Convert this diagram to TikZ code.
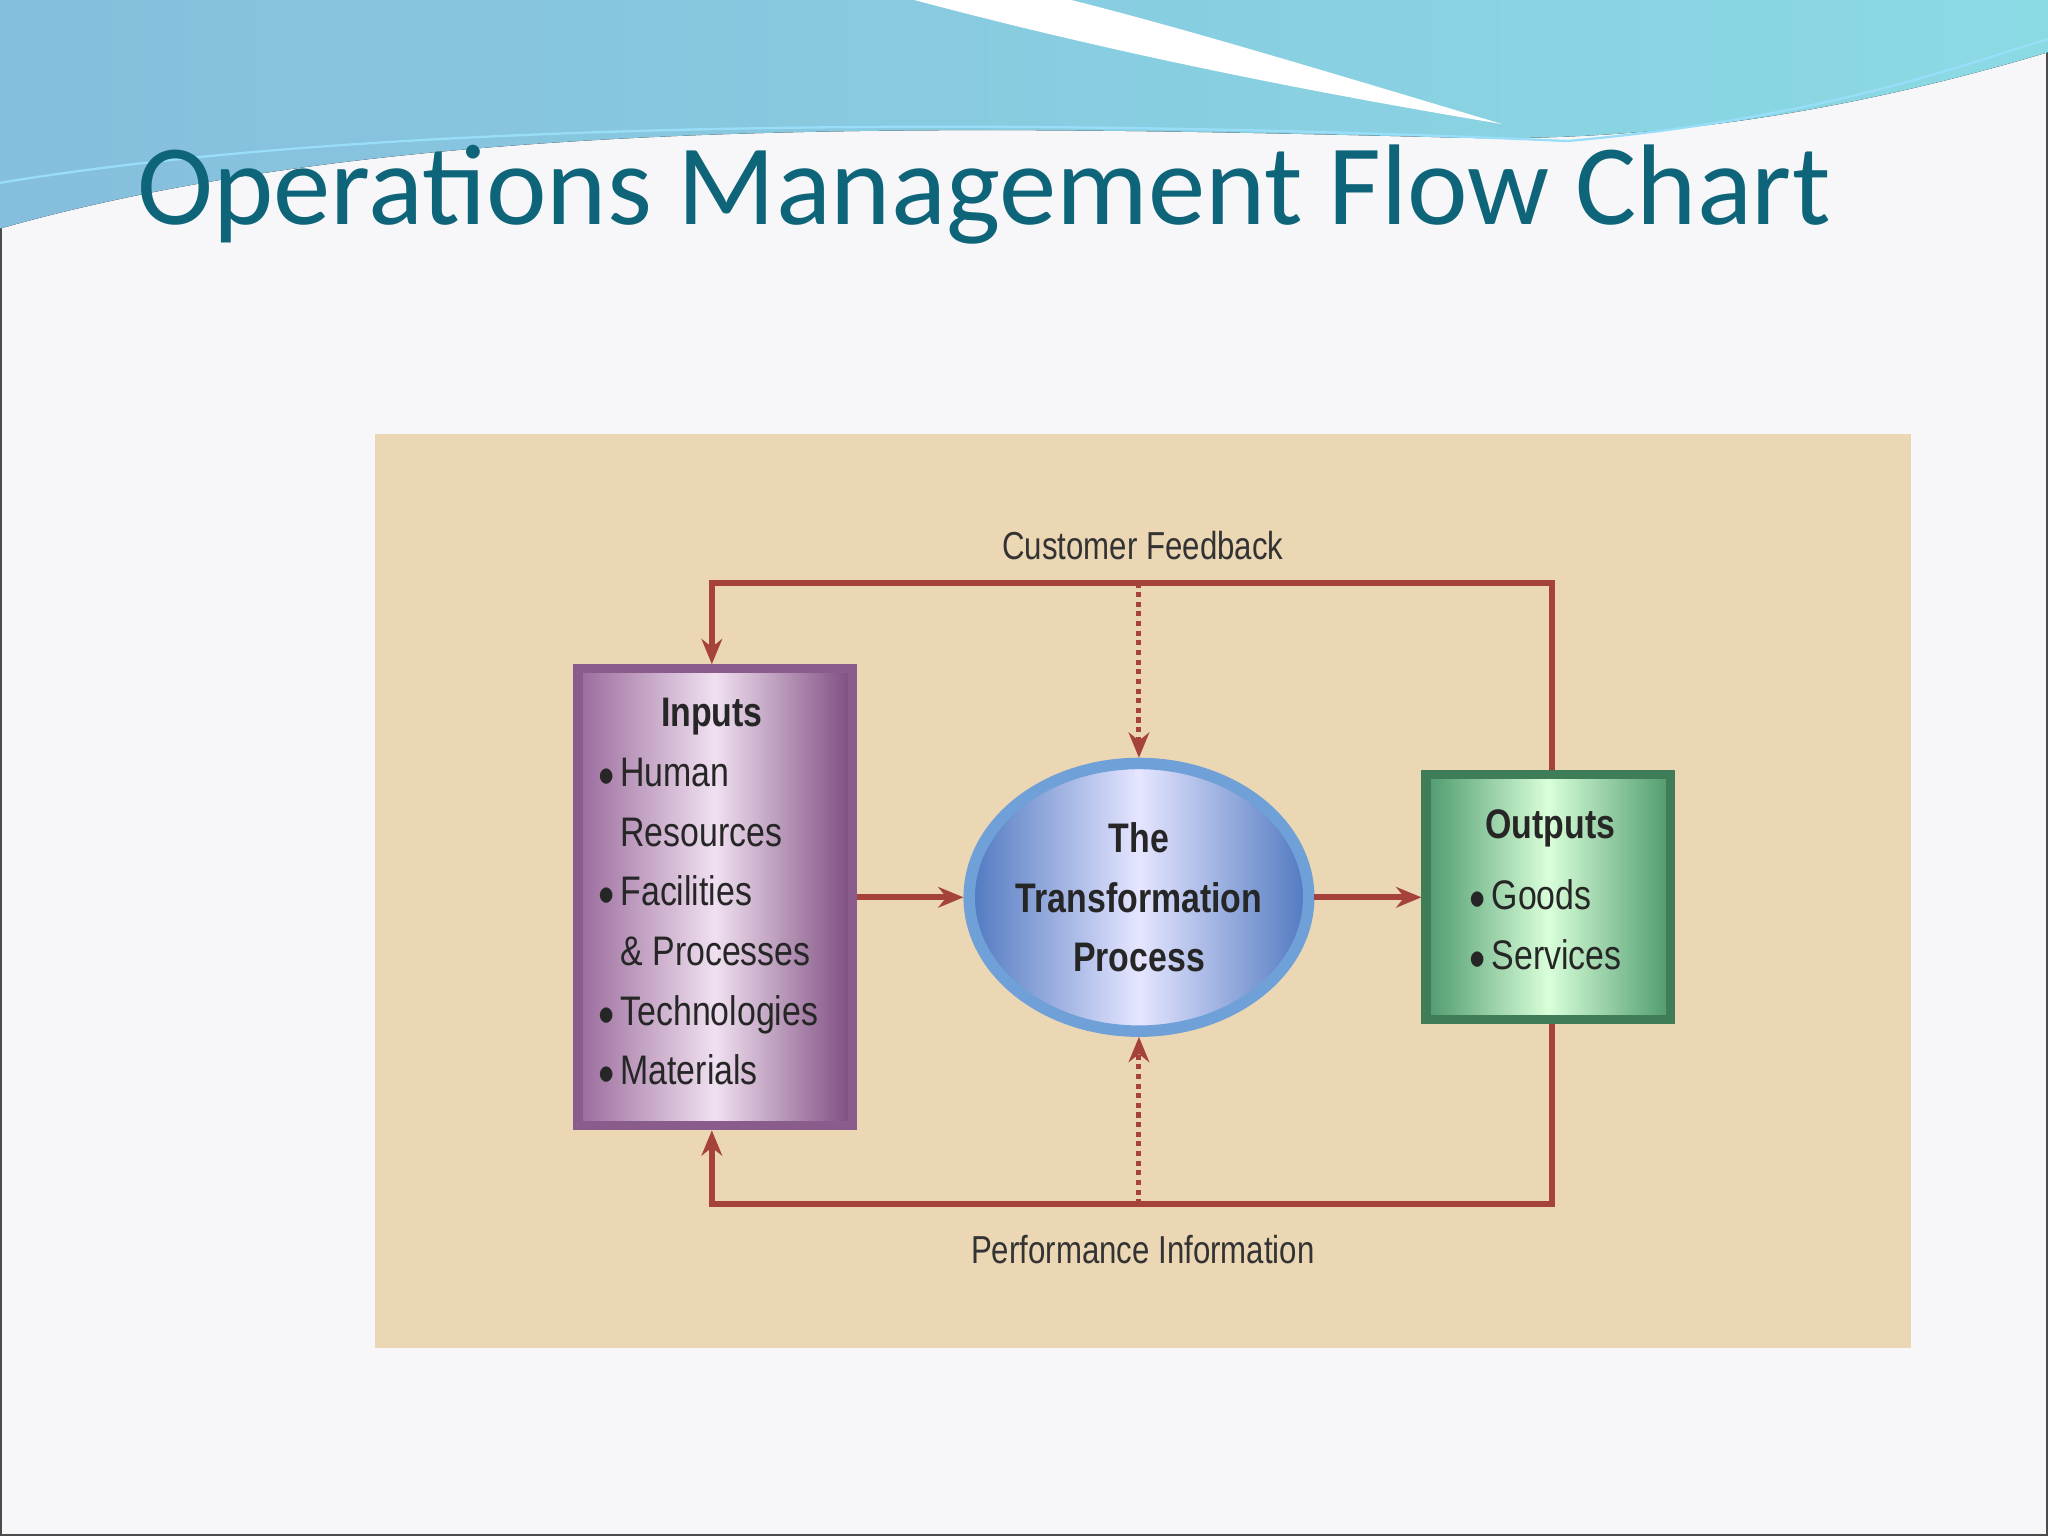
\documentclass[tikz,border=0pt]{standalone}
\usepackage{fontspec}
\setmainfont{Liberation Sans}
\newfontfamily\titlefont{Carlito}
\usetikzlibrary{arrows.meta,shapes.geometric}
\definecolor{bgc}{HTML}{F7F7FA}
\definecolor{panel}{HTML}{EBD7B4}
\definecolor{ln}{HTML}{A5423C}
\definecolor{ttl}{HTML}{0E6478}
\definecolor{wv1}{HTML}{86BEDD}
\definecolor{wv2}{HTML}{8ADAE4}
\definecolor{pu1}{HTML}{9A6A9C}
\definecolor{pu2}{HTML}{7E4C80}
\definecolor{pub}{HTML}{8A5C8C}
\definecolor{gr1}{HTML}{4E9A6E}
\definecolor{grb}{HTML}{3F7D58}
\definecolor{bl1}{HTML}{4F78C0}
\definecolor{blb}{HTML}{6FA0D8}
\tikzset{
  conn/.style={draw=ln,line width=2.6pt},
  dotconn/.style={draw=ln,line width=2.2pt,dotted},
  arr/.style={-{Stealth[length=11pt,width=9pt]}},
  lbl/.style={font=\fontsize{17}{20}\selectfont,text=black!80,xscale=0.8},
  btxt/.style={font=\fontsize{18}{26}\selectfont,text=black!85,xscale=0.82,align=left,inner sep=0pt},
}
\begin{document}
\begin{tikzpicture}[x=0.02cm,y=-0.02cm]
\useasboundingbox (0,0) rectangle (1568,1176);
\fill[bgc] (0,0) rectangle (1568,1176);
\draw[black!70,line width=0.8pt] (0.5,0.5) rectangle (1567.5,1175.5);
% top wave
\fill[left color=wv1,right color=wv2] (0,0) -- (1568,0) -- (1568,40) .. controls (1400,90) and (1250,110) .. (1100,105) .. controls (700,95) and (300,90) .. (0,175) -- cycle;
\fill[white] (700,0) .. controls (850,40) and (1000,70) .. (1150,95) .. controls (1000,50) and (900,20) .. (820,0) -- cycle;
\draw[white!60!cyan,line width=1pt] (0,140) .. controls (300,90) and (800,90) .. (1200,108) .. controls (1400,90) and (1500,50) .. (1568,30);
\node[anchor=base west,inner sep=0pt,text=ttl,font=\titlefont\fontsize{50}{54}\selectfont] (title) at (105,172) {Operations Management Flow Chart};
% panel
\fill[panel] (287,332) rectangle (1463,1032);
% boxes
\node[draw=pub,line width=4pt,inner sep=0pt,
  left color=pu1,right color=pu2,middle color=white!88!violet,
  minimum width=4.2cm,minimum height=7.0cm] (in) at (547.5,687) {};
\node[draw=grb,line width=4pt,inner sep=0pt,
  left color=gr1,right color=gr1,middle color=white!85!green,
  minimum width=3.75cm,minimum height=3.75cm] (out) at (1185.5,687) {};
\node[ellipse,draw=blb,line width=5pt,inner sep=0pt,
  left color=bl1,right color=bl1,middle color=white!90!blue,
  minimum width=5.2cm,minimum height=4.1cm] (tp) at (872,687) {};
% texts
\node[btxt,font=\bfseries\fontsize{18}{26}\selectfont] (inh) at (545,549) {Inputs};
\node[btxt,anchor=north west] (inl) at (458,580) {$\bullet$\,Human\\\phantom{$\bullet$\,}Resources\\$\bullet$\,Facilities\\\phantom{$\bullet$\,}\& Processes\\$\bullet$\,Technologies\\$\bullet$\,Materials};
\node[btxt,align=center,font=\bfseries\fontsize{18}{26}\selectfont] (tpt) at (872,687) {The\\Transformation\\Process};
\node[btxt,font=\bfseries\fontsize{18}{26}\selectfont] (outh) at (1187,634) {Outputs};
\node[btxt,anchor=north west] (outl) at (1125,673) {$\bullet$\,Goods\\$\bullet$\,Services};
% connectors
\coordinate (c1) at (1188,446); \coordinate (c2) at (545,446);
\coordinate (c3) at (1188,922); \coordinate (c4) at (545,922);
\coordinate (d1) at (872,446); \coordinate (d2) at (872,922);
\draw[conn,arr] (out.north -| c1) -- (c1) -- (c2) -- (in.north -| c2);
\draw[conn,arr] (out.south -| c3) -- (c3) -- (c4) -- (in.south -| c4);
\draw[dotconn,arr] (d1) -- (tp.north);
\draw[dotconn,arr] (d2) -- (tp.south);
\draw[conn,arr] (in.east) -- (tp.west);
\draw[conn,arr] (tp.east) -- (out.west);
\node[lbl] (cf) at (875,418) {Customer Feedback};
\node[lbl] (pi) at (875,957) {Performance Information};
\end{tikzpicture}
\end{document}
